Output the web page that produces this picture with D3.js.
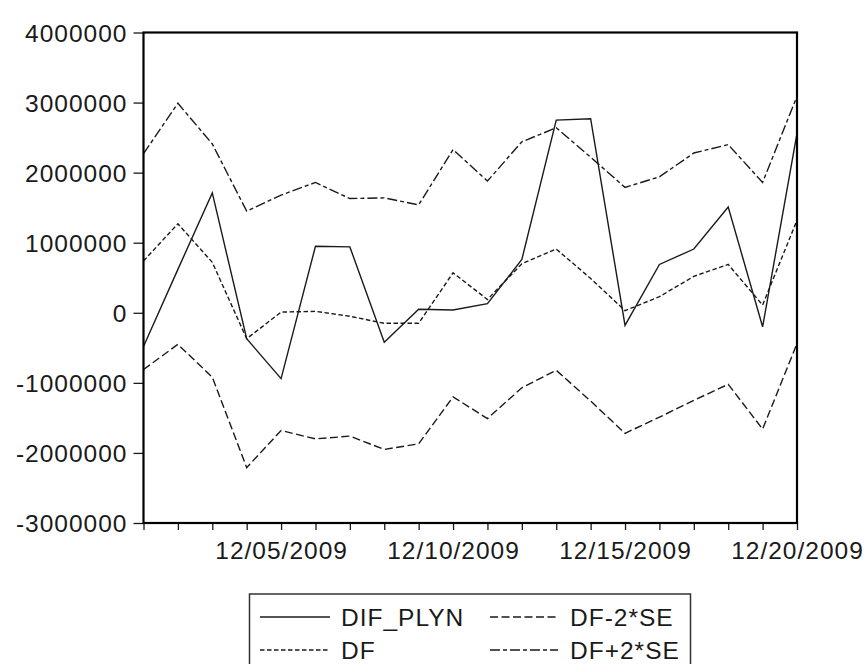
<!DOCTYPE html>
<html>
<head>
<meta charset="utf-8">
<script src="https://cdn.jsdelivr.net/npm/d3@7"></script>
<style>
  html, body { margin: 0; padding: 0; background: #fff; }
  svg { display: block; }
  text { font-family: "Liberation Sans", Arial, sans-serif; fill: #1a1a1a; }
</style>
</head>
<body>
<svg id="chart" width="868" height="664"></svg>
<script>
// Daily observations, 1-20 December 2009
const dates = d3.range(1, 21).map(d => new Date(2009, 11, d));

const difPlyn = [-480000, 620000, 1710000, -370000, -940000, 950000, 940000, -420000, 50000, 40000,
                 130000, 760000, 2750000, 2770000, -180000, 690000, 910000, 1510000, -200000, 2560000];
const df      = [740000, 1270000, 720000, -370000, 10000, 20000, -50000, -150000, -150000, 570000,
                 190000, 700000, 910000, 490000, 30000, 230000, 520000, 690000, 110000, 1320000];
const dfMinus = [-810000, -450000, -920000, -2210000, -1680000, -1800000, -1760000, -1950000, -1870000, -1200000,
                 -1510000, -1070000, -820000, -1260000, -1720000, -1490000, -1250000, -1020000, -1660000, -440000];
const dfPlus  = [2270000, 2990000, 2410000, 1450000, 1680000, 1860000, 1630000, 1640000, 1540000, 2330000,
                 1880000, 2440000, 2640000, 2220000, 1790000, 1940000, 2280000, 2400000, 1860000, 3090000];

const yTicks = [-3000000, -2000000, -1000000, 0, 1000000, 2000000, 3000000, 4000000];
const labelDays = [5, 10, 15, 20];

const seriesNames = ["DIF_PLYN", "DF", "DF-2*SE", "DF+2*SE"];
const seriesData = [difPlyn, df, dfMinus, dfPlus];
const seriesDash = [null, "4.5,2.5", "8,3.5", "10,3,4,3"];

const plotLeft = 143.5, plotRight = 797, plotTop = 32.5, plotBottom = 523;

const svg = d3.select("#chart");

const x = d3.scaleTime()
  .domain([dates[0], dates[dates.length - 1]])
  .range([plotLeft, plotRight]);
const y = d3.scaleLinear()
  .domain([-3000000, 4000000])
  .range([plotBottom, plotTop]);

const ink = "#1a1a1a";
const fontSize = "24.5px";
const spacing = "1px";

// Y axis (plain hyphen for negative numbers)
const yAxis = d3.axisLeft(y)
  .tickValues(yTicks)
  .tickFormat(d => String(d))
  .tickSize(10)
  .tickPadding(6);
const gy = svg.append("g").attr("transform", `translate(${plotLeft},0)`).call(yAxis);
gy.select(".domain").remove();
gy.selectAll(".tick line").attr("stroke", ink).attr("stroke-width", 1.3);
gy.selectAll(".tick text")
  .style("font-size", fontSize)
  .style("letter-spacing", spacing)
  .attr("dy", "0.36em");

// X axis: a tick every day, labels every fifth day
const xAxis = d3.axisBottom(x)
  .tickValues(dates)
  .tickFormat(d => labelDays.includes(d.getDate()) ? d3.timeFormat("%m/%d/%Y")(d) : "")
  .tickSize(7)
  .tickPadding(12);
const gx = svg.append("g").attr("transform", `translate(0,${plotBottom})`).call(xAxis);
gx.select(".domain").remove();
gx.selectAll(".tick line").attr("stroke", ink).attr("stroke-width", 1.3);
gx.selectAll(".tick text")
  .style("font-size", fontSize)
  .style("letter-spacing", spacing);

// Series lines
const line = d3.line()
  .x((d, i) => x(dates[i]))
  .y(d => y(d));

seriesData.forEach((vals, k) => {
  svg.append("path")
    .datum(vals)
    .attr("d", line)
    .attr("fill", "none")
    .attr("stroke", ink)
    .attr("stroke-width", 1.4)
    .attr("stroke-linejoin", "miter")
    .attr("stroke-dasharray", seriesDash[k]);
});

// Plot frame
svg.append("rect")
  .attr("x", plotLeft).attr("y", plotTop)
  .attr("width", plotRight - plotLeft).attr("height", plotBottom - plotTop)
  .attr("fill", "none")
  .attr("stroke", "#000")
  .attr("stroke-width", 2.2);

// Legend
const legend = svg.append("g");
legend.append("rect")
  .attr("x", 249.5).attr("y", 594)
  .attr("width", 441).attr("height", 90)
  .attr("fill", "#fff")
  .attr("stroke", "#333")
  .attr("stroke-width", 1.5);

const legendPos = [
  { x: 260, y: 617, len: 70, tx: 341 },
  { x: 260, y: 650, len: 70, tx: 341 },
  { x: 490, y: 617, len: 68, tx: 570 },
  { x: 490, y: 650, len: 68, tx: 570 }
];

seriesNames.forEach((name, k) => {
  const p = legendPos[k];
  legend.append("line")
    .attr("x1", p.x).attr("x2", p.x + p.len)
    .attr("y1", p.y).attr("y2", p.y)
    .attr("stroke", ink)
    .attr("stroke-width", 1.4)
    .attr("stroke-dasharray", seriesDash[k]);
  legend.append("text")
    .attr("x", p.tx)
    .attr("y", p.y + 9)
    .style("font-size", fontSize)
    .style("letter-spacing", spacing)
    .text(name);
});
</script>
</body>
</html>
